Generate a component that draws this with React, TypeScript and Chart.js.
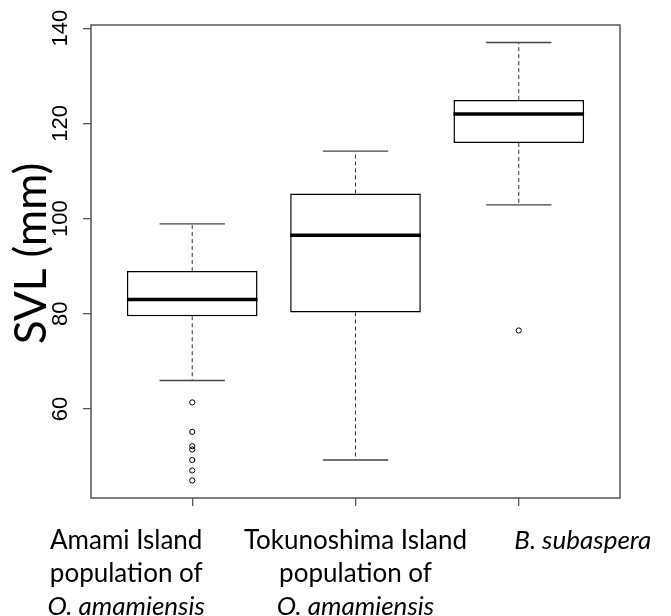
import React, { useEffect, useRef } from 'react';
import { Chart, registerables } from 'chart.js';

Chart.register(...registerables);

// ---- data ----
const groupPositions = [1, 2, 3];
const whiskerLow = [66.0, 49.3, 102.9];
const quartile1 = [79.5, 80.3, 115.9];
const medians = [83.0, 96.5, 122.0];
const quartile3 = [89.0, 105.3, 124.9];
const whiskerHigh = [98.9, 114.2, 137.0];
const outliersAmami = [61.4, 55.2, 52.2, 51.5, 49.3, 47.1, 45.0];
const outliersTokunoshima: number[] = [];
const outliersSubaspera = [76.5];
const yTickValues = [60, 80, 100, 120, 140];
const yAxisTitle = 'SVL (mm)';
const labelLinesAmami = ['Amami Island', 'population of', 'O. amamiensis'];
const labelLinesTokunoshima = ['Tokunoshima Island', 'population of', 'O. amamiensis'];
const labelLinesSubaspera = ['B. subaspera'];
const labelItalicAmami = [false, false, true];
const labelItalicTokunoshima = [false, false, true];
const labelItalicSubaspera = [true];

const outlierGroups = [outliersAmami, outliersTokunoshima, outliersSubaspera];
const labelLines = [labelLinesAmami, labelLinesTokunoshima, labelLinesSubaspera];
const labelItalic = [labelItalicAmami, labelItalicTokunoshima, labelItalicSubaspera];

// ---- style / layout ----
const W = 671;
const H = 616;
const LABEL_FONT = 'Lato, "Open Sans", sans-serif';
const LABEL_SIZE = 26;
const TITLE_SIZE = 44;
const labelShiftPx = [-66, 0, 64];
const labelFirstBaseline = 51;
const labelLineGap = 33;
const titleBaselineX = 46;
const titleShiftY = -8;

// R-style axis ranges (4% extension)
const allVals = [...whiskerLow, ...whiskerHigh, ...outliersAmami, ...outliersTokunoshima, ...outliersSubaspera];
const dMin = Math.min(...allVals);
const dMax = Math.max(...allVals);
const yMin = dMin - 0.04 * (dMax - dMin);
const yMax = dMax + 0.04 * (dMax - dMin);
const xMin = 0.5 - 0.04 * groupPositions.length;
const xMax = groupPositions.length + 0.5 + 0.04 * groupPositions.length;

const boxPlugin = {
  id: 'boxDecor',
  afterDatasetsDraw(chart: any) {
    const { ctx, chartArea } = chart;
    const xs = chart.scales.x;
    const ys = chart.scales.y;
    ctx.save();
    // plot frame
    ctx.strokeStyle = '#555';
    ctx.lineWidth = 1.5;
    ctx.setLineDash([]);
    ctx.strokeRect(chartArea.left, chartArea.top, chartArea.right - chartArea.left, chartArea.bottom - chartArea.top);

    groupPositions.forEach((pos, i) => {
      const cx = xs.getPixelForValue(pos);
      const capL = xs.getPixelForValue(pos - 0.2);
      const capR = xs.getPixelForValue(pos + 0.2);
      const boxL = xs.getPixelForValue(pos - 0.4);
      const boxR = xs.getPixelForValue(pos + 0.4);
      const yq1 = ys.getPixelForValue(quartile1[i]);
      const yq3 = ys.getPixelForValue(quartile3[i]);
      const ylo = ys.getPixelForValue(whiskerLow[i]);
      const yhi = ys.getPixelForValue(whiskerHigh[i]);
      const ymed = ys.getPixelForValue(medians[i]);
      // whiskers
      ctx.strokeStyle = '#333';
      ctx.lineWidth = 1;
      ctx.setLineDash([4, 3]);
      ctx.beginPath();
      ctx.moveTo(cx, yq3);
      ctx.lineTo(cx, yhi);
      ctx.moveTo(cx, yq1);
      ctx.lineTo(cx, ylo);
      ctx.stroke();
      // caps
      ctx.setLineDash([]);
      ctx.strokeStyle = '#444';
      ctx.lineWidth = 1.3;
      ctx.beginPath();
      ctx.moveTo(capL, yhi);
      ctx.lineTo(capR, yhi);
      ctx.moveTo(capL, ylo);
      ctx.lineTo(capR, ylo);
      ctx.stroke();
      // median
      ctx.strokeStyle = '#000';
      ctx.lineWidth = 3.5;
      ctx.beginPath();
      ctx.moveTo(boxL, ymed);
      ctx.lineTo(boxR, ymed);
      ctx.stroke();
    });
    ctx.restore();
  },
  afterDraw(chart: any) {
    const { ctx, chartArea } = chart;
    const xs = chart.scales.x;
    ctx.save();
    ctx.fillStyle = '#000';
    ctx.textAlign = 'center';
    ctx.textBaseline = 'alphabetic';
    groupPositions.forEach((pos, i) => {
      const cx = xs.getPixelForValue(pos) + labelShiftPx[i];
      labelLines[i].forEach((line, j) => {
        ctx.font = (labelItalic[i][j] ? 'italic ' : '') + LABEL_SIZE + 'px ' + LABEL_FONT;
        ctx.fillText(line, cx, chartArea.bottom + labelFirstBaseline + j * labelLineGap);
      });
    });
    // y axis title
    const cy = (chartArea.top + chartArea.bottom) / 2 + titleShiftY;
    ctx.translate(titleBaselineX, cy);
    ctx.rotate(-Math.PI / 2);
    ctx.font = TITLE_SIZE + 'px ' + LABEL_FONT;
    ctx.fillText(yAxisTitle, 0, 0);
    ctx.restore();
  },
};

export default function App() {
  const ref = useRef<HTMLCanvasElement | null>(null);
  useEffect(() => {
    document.body.style.margin = '0';
    const canvas = ref.current;
    if (!canvas) return;
    const outlierPoints: { x: number; y: number }[] = [];
    outlierGroups.forEach((vals, i) => vals.forEach((v) => outlierPoints.push({ x: groupPositions[i], y: v })));
    const chart = new Chart(canvas, {
      type: 'scatter',
      data: {
        datasets: [
          {
            type: 'bar',
            data: groupPositions.map((x, i) => ({ x, y: [quartile1[i], quartile3[i]] })) as any,
            backgroundColor: '#ffffff',
            borderColor: '#000',
            borderWidth: 1.5,
            borderSkipped: false,
            barPercentage: 0.8,
            categoryPercentage: 1,
          } as any,
          {
            type: 'scatter',
            data: outlierPoints,
            pointStyle: 'circle',
            pointRadius: 2.6,
            pointBorderWidth: 1,
            pointBorderColor: '#000',
            pointBackgroundColor: 'rgba(0,0,0,0)',
          } as any,
        ],
      },
      options: {
        responsive: false,
        animation: false,
        devicePixelRatio: 1,
        layout: { padding: { top: 25, right: 51, left: 0, bottom: 0 } },
        plugins: { legend: { display: false }, tooltip: { enabled: false } },
        events: [],
        scales: {
          x: {
            type: 'linear',
            min: xMin,
            max: xMax,
            offset: false,
            afterBuildTicks: (s: any) => {
              s.ticks = groupPositions.map((v) => ({ value: v }));
            },
            afterFit: (s: any) => {
              s.height = H - 498;
            },
            ticks: { display: false },
            border: { display: false },
            grid: { display: true, offset: false, drawOnChartArea: false, drawTicks: true, tickLength: 8, color: '#555', lineWidth: 1.3 },
          },
          y: {
            type: 'linear',
            min: yMin,
            max: yMax,
            afterBuildTicks: (s: any) => {
              s.ticks = yTickValues.map((v) => ({ value: v }));
            },
            afterFit: (s: any) => {
              s.width = 91;
            },
            ticks: {
              minRotation: 90,
              maxRotation: 90,
              crossAlign: 'center',
              padding: 4,
              color: '#000',
              font: { family: '"Liberation Sans", Arial, sans-serif', size: 22 },
              callback: (v: any) => String(v),
            },
            border: { display: false },
            grid: { display: true, drawOnChartArea: false, drawTicks: true, tickLength: 8, color: '#555', lineWidth: 1.3 },
            title: { display: false },
          },
        },
      },
      plugins: [boxPlugin],
    });
    return () => chart.destroy();
  }, []);
  return (
    <div style={{ width: W, height: H }}>
      <canvas ref={ref} width={W} height={H} style={{ display: 'block', width: W, height: H }} />
    </div>
  );
}
